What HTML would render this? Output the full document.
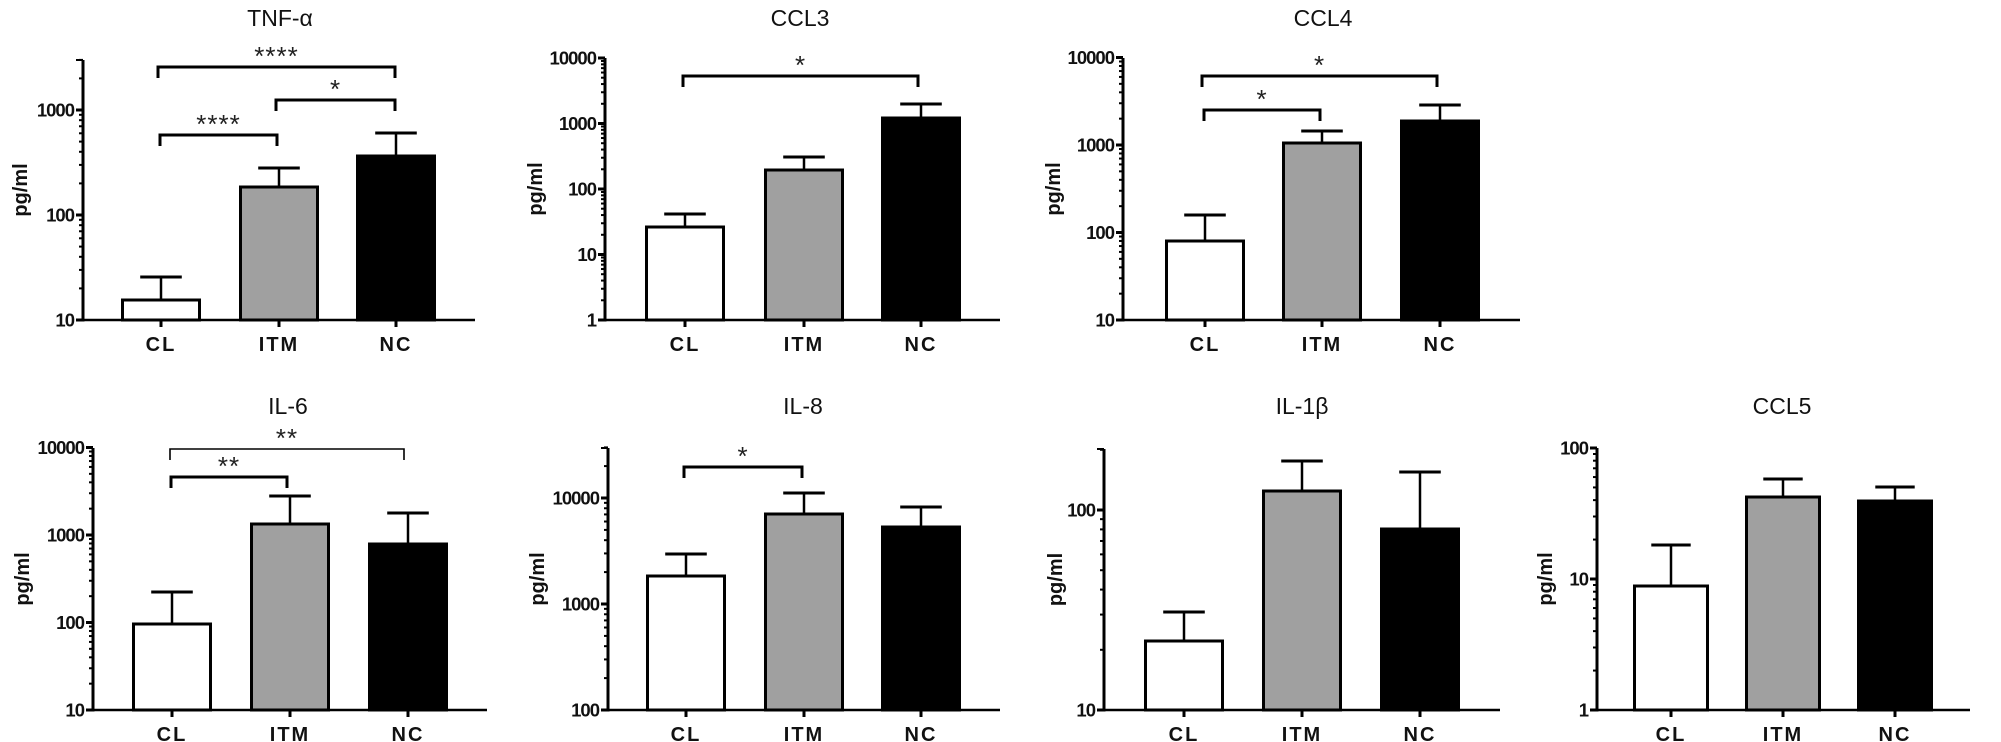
<!DOCTYPE html>
<html><head><meta charset="utf-8"><style>
html,body{margin:0;padding:0;background:#fff;}
svg{display:block;font-family:"Liberation Sans",Arial,sans-serif;}
</style></head><body>
<svg id="s" width="2001" height="742" viewBox="0 0 2001 742" xmlns="http://www.w3.org/2000/svg"></svg>
<script>
var P=[
{t:"TNF-\u03b1",tx:280,ty:26,ax:83,top:60,bot:320,e0:1,dec:105,ne:3,end:475,lx:20,c:[161,279,396],w:77,
 b:[[300,277],[187,168],[156,133]],br:[[158,395,67,"****",1],[276,395,100,"*",1],[160,277,135,"****",1]]},
{t:"CCL3",tx:800,ty:26,ax:605,top:58,bot:320,e0:0,dec:65.5,ne:5,end:1000,lx:535,c:[685,804,921],w:77,
 b:[[227,214],[170,157],[118,104]],br:[[683,918,76,"*",1]]},
{t:"CCL4",tx:1323,ty:26,ax:1123,top:58,bot:320,e0:1,dec:87.5,ne:4,end:1520,lx:1053,c:[1205,1322,1440],w:77,
 b:[[241,215],[143,131],[121,105]],br:[[1202,1437,76,"*",1],[1204,1320,110,"*",1]]},
{t:"IL-6",tx:288,ty:414,ax:93,top:448,bot:710,e0:1,dec:87.5,ne:4,end:487,lx:22,c:[172,290,408],w:77,
 b:[[624,592],[524,496],[544,513]],br:[[170,404,449,"**",0],[171,287,477,"**",1]]},
{t:"IL-8",tx:803,ty:414,ax:608,top:448,bot:710,e0:2,dec:106,ne:3,end:1000,lx:537,c:[686,804,921],w:77,
 b:[[576,554],[514,493],[527,507]],br:[[684,802,467,"*",1]]},
{t:"IL-1\u03b2",tx:1302,ty:414,ax:1104,top:449,bot:710,e0:1,dec:200,ne:2,end:1500,lx:1055,c:[1184,1302,1420],w:77,
 b:[[641,612],[491,461],[529,472]],br:[]},
{t:"CCL5",tx:1782,ty:414,ax:1597,top:448,bot:710,e0:0,dec:131,ne:3,end:1970,lx:1545,c:[1671,1783,1895],w:73,
 b:[[586,545],[497,479],[501,487]],br:[]}
];
var fills=["#fff","#a0a0a0","#000"],names=["CL","ITM","NC"];
var h="";
P.forEach(function(p){
 h+='<text x="'+p.tx+'" y="'+p.ty+'" font-size="23" text-anchor="middle" fill="#111">'+p.t+'</text>';
 var cy=(p.top+p.bot)/2;
 h+='<text transform="translate('+(p.lx+7)+','+cy+') rotate(-90)" font-size="20" font-weight="bold" text-anchor="middle" fill="#111">pg/ml</text>';
 p.b.forEach(function(b,i){
  var c=p.c[i],x=c-p.w/2;
  h+='<line x1="'+c+'" y1="'+b[0]+'" x2="'+c+'" y2="'+b[1]+'" stroke="#000" stroke-width="2.5"/>';
  h+='<line x1="'+(c-p.w*0.27)+'" y1="'+b[1]+'" x2="'+(c+p.w*0.27)+'" y2="'+b[1]+'" stroke="#000" stroke-width="3"/>';
  h+='<rect x="'+x+'" y="'+b[0]+'" width="'+p.w+'" height="'+(p.bot-b[0])+'" fill="'+fills[i]+'" stroke="#000" stroke-width="3"/>';
 });
 h+='<line x1="'+p.ax+'" y1="'+p.top+'" x2="'+p.ax+'" y2="'+(p.bot+1.5)+'" stroke="#000" stroke-width="3"/>';
 h+='<line x1="'+(p.ax-1.5)+'" y1="'+p.bot+'" x2="'+p.end+'" y2="'+p.bot+'" stroke="#000" stroke-width="2.5"/>';
 for(var k=0;k<p.ne;k++){
  var y=p.bot-k*p.dec;
  if(y>=p.top-1){
   h+='<line x1="'+(p.ax-7)+'" y1="'+y+'" x2="'+p.ax+'" y2="'+y+'" stroke="#000" stroke-width="3"/>';
   h+='<text x="'+(p.ax-9)+'" y="'+(y+6.5)+'" font-size="18.5" font-weight="bold" text-anchor="end" letter-spacing="-1" fill="#111">'+Math.pow(10,p.e0+k)+'</text>';
  }
  for(var m=2;m<10;m++){
   var ym=y-Math.log10(m)*p.dec;
   if(ym>=p.top-1) h+='<line x1="'+(p.ax-4)+'" y1="'+ym+'" x2="'+p.ax+'" y2="'+ym+'" stroke="#000" stroke-width="2"/>';
  }
 }
 h+='<line x1="'+(p.ax-7)+'" y1="'+p.top+'" x2="'+p.ax+'" y2="'+p.top+'" stroke="#000" stroke-width="2"/>';
 p.c.forEach(function(c,i){
  h+='<line x1="'+c+'" y1="'+p.bot+'" x2="'+c+'" y2="'+(p.bot+7)+'" stroke="#000" stroke-width="3"/>';
  h+='<text x="'+c+'" y="'+(p.bot+31)+'" font-size="20" font-weight="bold" text-anchor="middle" letter-spacing="2" fill="#111">'+names[i]+'</text>';
 });
 p.br.forEach(function(r){
  var sw=r[4]?3:1.6;
  h+='<polyline points="'+r[0]+','+(r[2]+11)+' '+r[0]+','+r[2]+' '+r[1]+','+r[2]+' '+r[1]+','+(r[2]+11)+'" fill="none" stroke="#000" stroke-width="'+sw+'"/>';
  h+='<text x="'+((r[0]+r[1])/2)+'" y="'+(r[2]-2)+'" font-size="26" text-anchor="middle" letter-spacing="1" fill="#222">'+r[3]+'</text>';
 });
});
document.getElementById("s").innerHTML=h;
</script>
</body></html>
